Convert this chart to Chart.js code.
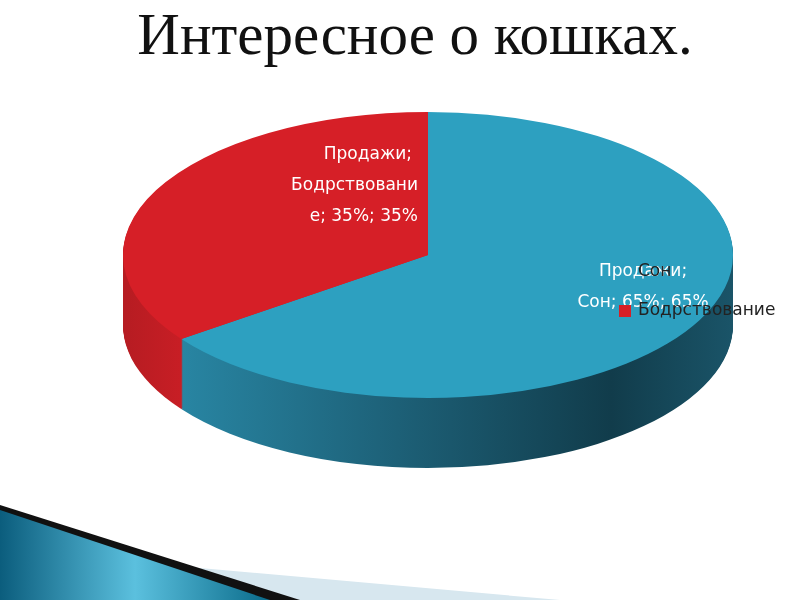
<!DOCTYPE html>
<html><head><meta charset="utf-8">
<script src="https://cdn.jsdelivr.net/npm/chart.js@4"></script>
<style>
body{margin:0;background:#fff;}
#wrap{position:relative;width:800px;height:600px;overflow:hidden;}
#title{position:absolute;left:0;width:830px;top:0px;text-align:center;font:59px "Liberation Serif",serif;color:#111;}
canvas{position:absolute;left:0;top:0;}
</style></head><body>
<div id="wrap">
<svg width="800" height="600" style="position:absolute;left:0;top:0">
  <defs><linearGradient id="g" x1="0" x2="1"><stop offset="0" stop-color="#0b5d7d"/><stop offset="0.5" stop-color="#5bc0de"/><stop offset="1" stop-color="#0a6b8a"/></linearGradient></defs>
  <polygon points="0,540 0,600 560,600 110,560" fill="#d7e7ef"/>
  <polygon points="0,505 0,600 300,600" fill="#111"/>
  <polygon points="0,510 0,600 270,600" fill="url(#g)"/>
</svg>
<div id="title">Интересное о кошках.</div>
<canvas id="c" width="800" height="600"></canvas>
</div>
<script>
const seriesName = 'Продажи';
const labels = ['Сон', 'Бодрствование'];
const values = [65, 35];
const colors = ['#2da0c0', '#d61f27'];

const CX = 428, CY = 255, RX = 305, RY = 143, DEPTH = 70;

function frame(arc) {
  const sx = RX / arc.outerRadius, sy = RY / arc.outerRadius;
  return { sx, sy, cx: arc.x, cy: arc.y };
}

const tiltPlugin = {
  id: 'tilt',
  beforeDatasetsDraw(chart) {
    const ctx = chart.ctx, meta = chart.getDatasetMeta(0);
    const f = frame(meta.data[0]);
    // side walls
    ctx.save();
    const grads = [
      (() => { const g = ctx.createLinearGradient(CX - RX, 0, CX + RX, 0);
        g.addColorStop(0, '#2b8fae'); g.addColorStop(0.45, '#1d6077'); g.addColorStop(0.8, '#113c4b'); g.addColorStop(1, '#1a5468'); return g; })(),
      (() => { const g = ctx.createLinearGradient(CX - RX, 0, CX - RX + 60, 0);
        g.addColorStop(0, '#b61c22'); g.addColorStop(1, '#c81e25'); return g; })()
    ];
    for (let d = DEPTH; d > 0; d--) {
      meta.data.forEach((a, i) => {
        ctx.save();
        ctx.translate(CX, CY + d); ctx.scale(f.sx, f.sy);
        ctx.beginPath(); ctx.moveTo(0, 0);
        ctx.arc(0, 0, a.outerRadius, a.startAngle, a.endAngle);
        ctx.closePath();
        ctx.restore();
        ctx.fillStyle = grads[i]; ctx.fill();
      });
    }
    ctx.restore();
    ctx.save();
    ctx.translate(CX, CY); ctx.scale(f.sx, f.sy); ctx.translate(-f.cx, -f.cy);
  },
  afterDatasetsDraw(chart) {
    chart.ctx.restore();
    const ctx = chart.ctx;
    ctx.save();
    ctx.font = '17px "DejaVu Sans"';
    ctx.fillStyle = '#fff';
    ctx.textBaseline = 'middle';
    // data labels
    const lab = [
      { lines: [seriesName + ';', labels[0] + '; ' + values[0] + '%; ' + values[0] + '%'], x: 643, y: 272, align: 'center' },
      { lines: [seriesName + ';', labels[1].slice(0, -1), labels[1].slice(-1) + '; ' + values[1] + '%; ' + values[1] + '%'], x: 418, y: 155, align: 'right' }
    ];
    lab.forEach((l, k) => {
      ctx.textAlign = l.align;
      l.lines.forEach((t, j) => {
        let x = l.x;
        if (k === 1 && j === 0) x = 412;
        ctx.fillText(t, x, l.y + j * 31);
      });
    });
    // legend
    ctx.textAlign = 'left';
    ctx.fillStyle = '#222';
    ctx.fillText(labels[0], 638, 272);
    ctx.fillStyle = colors[1];
    ctx.fillRect(619, 305, 12, 12);
    ctx.fillStyle = '#222';
    ctx.fillText(labels[1], 638, 311);
    ctx.restore();
  }
};

new Chart(document.getElementById('c'), {
  type: 'pie',
  data: { labels, datasets: [{ data: values, backgroundColor: colors, borderWidth: 0 }] },
  options: {
    responsive: false, animation: false,
    plugins: { legend: { display: false }, tooltip: { enabled: false } }
  },
  plugins: [tiltPlugin]
});
</script>
</body></html>
